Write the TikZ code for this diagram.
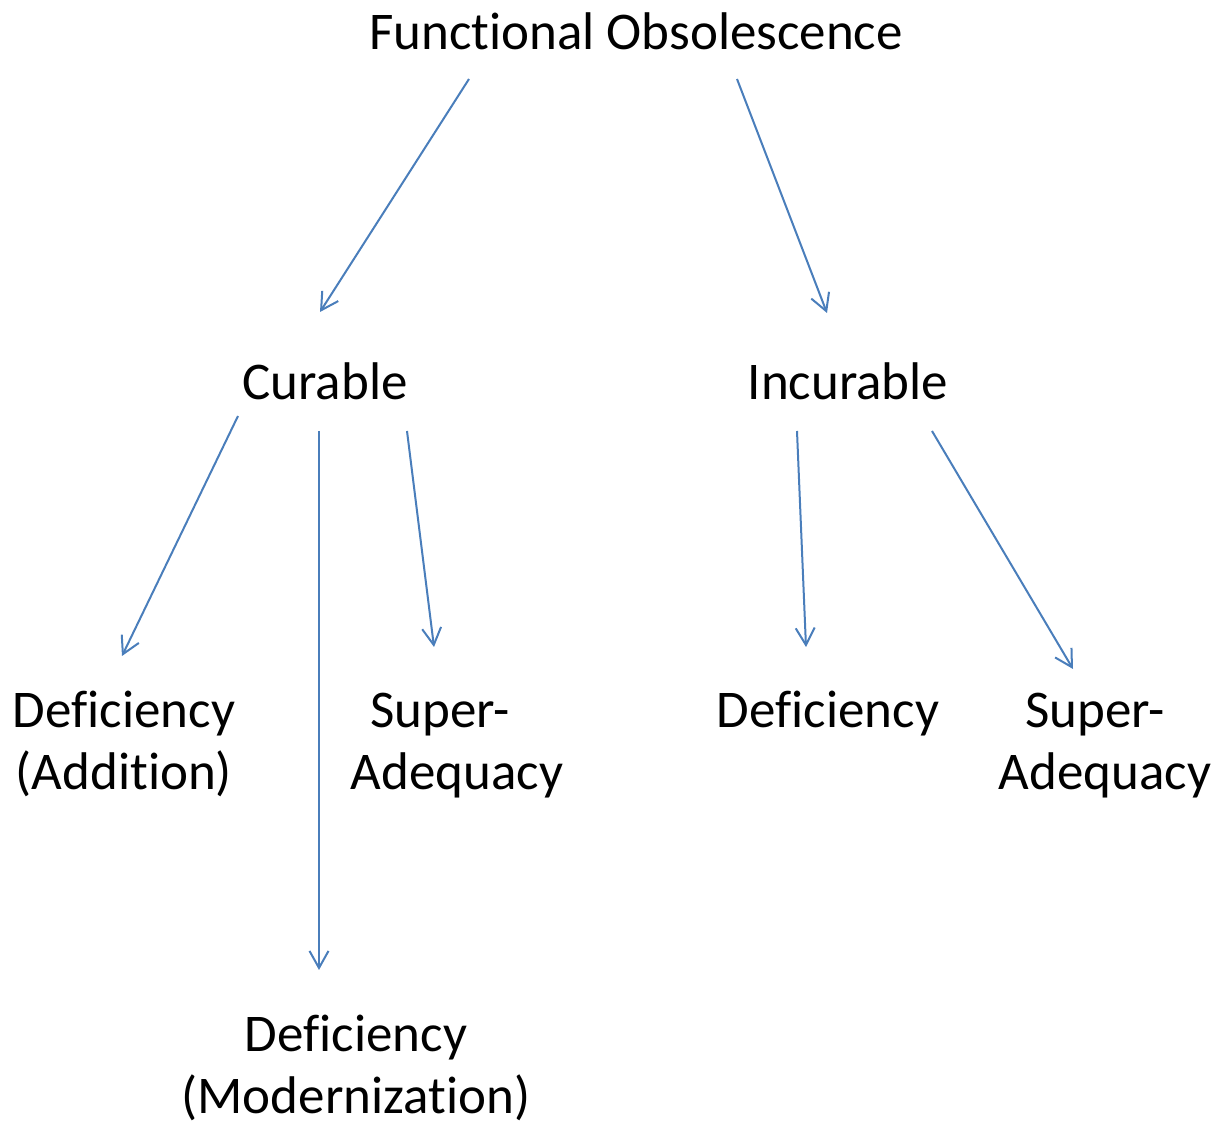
\documentclass[tikz,border=0pt]{standalone}
\usepackage{fontspec}
\setmainfont{Carlito}[Ligatures={NoCommon}]
\usetikzlibrary{arrows.meta, calc}

\definecolor{arrowblue}{HTML}{4A7EBB}

\begin{document}
\begin{tikzpicture}[
    x=0.5pt, y=-0.5pt,
    term/.style={font=\fontsize{26.5}{31}\selectfont, inner sep=0pt,
        anchor=base, align=center},
    branch/.style={draw=arrowblue, line width=1pt,
        -{Straight Barb[length=8.5pt, width=9.5pt]}},
]
\useasboundingbox (0,0) rectangle (1222,1127);

% =============================================================================
% Top level
% =============================================================================
\node[term] (fo) at (636,50) {Functional Obsolescence};

\node[term] (cur) at (325,400) {Curable};
\node[term] (inc) at (848,400) {Incurable};

\draw[branch] ($(fo.base)+(-167,29)$) -- ($(cur.base)+(-5,-88)$);
\draw[branch] ($(fo.base)+(101,29)$) -- ($(inc.base)+(-21,-87)$);

% =============================================================================
% Curable branch (base = last line)
% =============================================================================
\node[term] (add) at (124,790) {Deficiency\\(Addition)};
\node[term] (sup) at (457,790) {Super-\hspace*{17pt}\\Adequacy};
\node[term] (mod) at (356,1114) {Deficiency\\(Modernization)};

\draw[branch] ($(cur.base)+(-87,16)$) -- ($(add.base)+(-2,-134)$);
\draw[branch] ($(cur.base)+(-6,31)$) -- ($(mod.base)+(-37,-144)$);
\draw[branch] ($(cur.base)+(82,31)$) -- ($(sup.base)+(-23,-143)$);

% =============================================================================
% Incurable branch
% =============================================================================
\node[term] (def) at (828,728) {Deficiency};
\node[term] (supi) at (1105,790) {Super-\hspace*{10pt}\\Adequacy};

\draw[branch] ($(inc.base)+(-51,31)$) -- ($(def.base)+(-22,-81)$);
\draw[branch] ($(inc.base)+(84,31)$) -- ($(supi.base)+(-32,-121)$);

\end{tikzpicture}
\end{document}
